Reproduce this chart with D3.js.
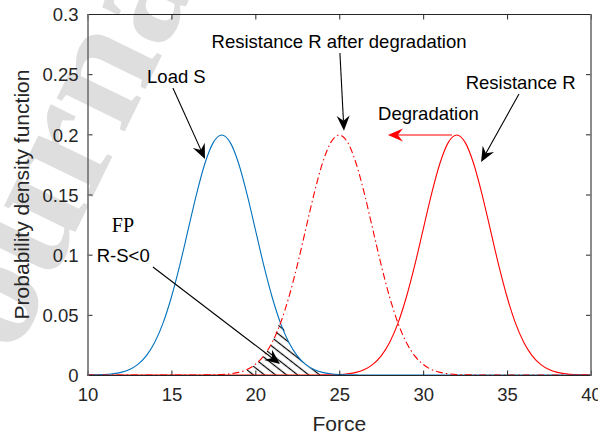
<!DOCTYPE html>
<html>
<head>
<meta charset="utf-8">
<script src="https://cdn.jsdelivr.net/npm/d3@7"></script>
<style>
  html, body { margin: 0; padding: 0; background: #fff; }
  svg { display: block; }
</style>
</head>
<body>
<svg id="chart" width="598" height="438"></svg>
<script>
// ---------- data ----------
const forceX = [10,10.5,11,11.5,12,12.5,13,13.5,14,14.5,15,15.5,16,16.5,17,17.5,18,18.5,19,19.5,20,20.5,21,21.5,22,22.5,23,23.5,24,24.5,25,25.5,26,26.5,27,27.5,28,28.5,29,29.5,30,30.5,31,31.5,32,32.5,33,33.5,34,34.5,35,35.5,36,36.5,37,37.5,38,38.5,39,39.5,40];

const loadS = [0.0001,0.0002,0.0004,0.0010,0.0022,0.0045,0.0088,0.0159,0.0270,0.0431,0.0648,0.0913,0.1210,0.1506,0.1760,0.1933,0.1995,0.1933,0.1760,0.1506,0.1210,0.0913,0.0648,0.0431,0.0270,0.0159,0.0088,0.0045,0.0022,0.0010,0.0004,0.0002,0.0001,0,0,0,0,0,0,0,0,0,0,0,0,0,0,0,0,0,0,0,0,0,0,0,0,0,0,0,0];

const resistDegraded = [0,0,0,0,0,0,0,0,0,0,0,0,0,0,0.0001,0.0002,0.0004,0.0010,0.0022,0.0045,0.0088,0.0159,0.0270,0.0431,0.0648,0.0913,0.1210,0.1506,0.1760,0.1933,0.1995,0.1933,0.1760,0.1506,0.1210,0.0913,0.0648,0.0431,0.0270,0.0159,0.0088,0.0045,0.0022,0.0010,0.0004,0.0002,0.0001,0,0,0,0,0,0,0,0,0,0,0,0,0,0];

const resistR = [0,0,0,0,0,0,0,0,0,0,0,0,0,0,0,0,0,0,0,0,0,0,0,0,0,0,0,0,0.0001,0.0002,0.0004,0.0010,0.0022,0.0045,0.0088,0.0159,0.0270,0.0431,0.0648,0.0913,0.1210,0.1506,0.1760,0.1933,0.1995,0.1933,0.1760,0.1506,0.1210,0.0913,0.0648,0.0431,0.0270,0.0159,0.0088,0.0045,0.0022,0.0010,0.0004,0.0002,0.0001];

const xTicks = [10,15,20,25,30,35,40];
const yTicks = [0,0.05,0.1,0.15,0.2,0.25,0.3];
const yTickLabels = ["0","0.05","0.1","0.15","0.2","0.25","0.3"];

// annotation texts and arrows in data units
const annoTexts = [
  {t:"Load S", x:13.55, y:0.2427},
  {t:"Resistance R after degradation", x:17.39, y:0.2717},
  {t:"Resistance R", x:32.53, y:0.2377},
  {t:"Degradation", x:27.31, y:0.2119},
  {t:"R-S<0", x:10.55, y:0.0939}
];
const annoArrows = [
  {x1:15.09, y1:0.2385, x2:17.00, y2:0.1795, c:"#000"},
  {x1:25.04, y1:0.2676, x2:25.28, y2:0.2030, c:"#000"},
  {x1:35.71, y1:0.2335, x2:33.45, y2:0.1770, c:"#000"},
  {x1:31.72, y1:0.1995, x2:27.90, y2:0.1995, c:"#ff0000"},
  {x1:13.90, y1:0.0898, x2:21.47, y2:0.0091, c:"#000"}
];

// ---------- layout ----------
const SANS = "'Liberation Sans', Arial, Helvetica, sans-serif";
const SERIF = "'Liberation Serif', 'Times New Roman', serif";
const svg = d3.select("#chart");
const L = 87.5, R = 591, T = 14, B = 375;
const x = d3.scaleLinear().domain([10,40]).range([L,R]);
const y = d3.scaleLinear().domain([0,0.3]).range([B,T]);
const axisCol = "#262626";

// watermark (light grey, behind everything)
svg.append("text")
  .attr("transform","translate(-22,432) rotate(-64)")
  .style("font-family",SERIF)
  .style("font-weight","bold")
  .style("font-size","165px")
  .attr("fill","#dedede")
  .text("Journal");

// ---------- hatch pattern ----------
const defs = svg.append("defs");
const pat = defs.append("pattern")
  .attr("id","hatch").attr("patternUnits","userSpaceOnUse")
  .attr("width",14).attr("height",6.8)
  .attr("patternTransform","rotate(38)");
pat.append("line").attr("x1",0).attr("y1",3.4).attr("x2",14).attr("y2",3.4)
  .attr("stroke","#000").attr("stroke-width",1.2);

const overlap = forceX.map((f,i)=>[f, Math.min(loadS[i], resistDegraded[i])]);
defs.append("clipPath").attr("id","ovClip")
  .append("path")
  .attr("d", d3.area().x(d=>x(d[0])).y0(y(0)).y1(d=>y(d[1])).curve(d3.curveMonotoneX)(overlap));

svg.append("rect")
  .attr("x", x(19.5)).attr("y", y(0.05)).attr("width", x(24)-x(19.5)).attr("height", y(0)-y(0.05))
  .attr("fill","url(#hatch)")
  .attr("clip-path","url(#ovClip)");

// ---------- curves ----------
const line = d3.line().x((d,i)=>x(forceX[i])).y(d=>y(d)).curve(d3.curveMonotoneX);

svg.append("path").attr("d", line(resistR))
  .attr("fill","none").attr("stroke","#ff0000").attr("stroke-width",1.1);
svg.append("path").attr("d", line(loadS))
  .attr("fill","none").attr("stroke","#0072bd").attr("stroke-width",1.1);
svg.append("path").attr("d", line(resistDegraded))
  .attr("fill","none").attr("stroke","#ff0000").attr("stroke-width",1.1)
  .attr("stroke-dasharray","7,3,1.5,3");

// ---------- axes (box with inward ticks) ----------
const gx = svg.append("g").attr("transform",`translate(0,${B+0.5})`)
  .call(d3.axisBottom(x).tickValues(xTicks).tickSize(-5).tickPadding(12).tickFormat(d3.format("d")));
const gxTop = svg.append("g").attr("transform",`translate(0,${T+0.5})`)
  .call(d3.axisTop(x).tickValues(xTicks).tickSize(-5).tickFormat(""));
const gy = svg.append("g").attr("transform",`translate(${L},0)`)
  .call(d3.axisLeft(y).tickValues(yTicks).tickSize(-5).tickPadding(9).tickFormat((d,i)=>yTickLabels[i]));
const gyR = svg.append("g").attr("transform",`translate(${R},0)`)
  .call(d3.axisRight(y).tickValues(yTicks).tickSize(-5).tickFormat(""));

[gx,gxTop,gy,gyR].forEach(g=>{
  g.select(".domain").remove();
  g.selectAll(".tick line").attr("stroke",axisCol);
  g.selectAll(".tick text").attr("fill",axisCol)
    .style("font-family",SANS).style("font-size","18.5px");
});
gy.selectAll(".tick text").attr("dy","0.36em");
gx.selectAll(".tick text").attr("dy","0.71em");

// box lines
svg.append("line").attr("x1",L).attr("x2",R).attr("y1",T+0.5).attr("y2",T+0.5).attr("stroke",axisCol);
svg.append("line").attr("x1",L).attr("x2",R).attr("y1",B+0.5).attr("y2",B+0.5).attr("stroke",axisCol);
svg.append("line").attr("x1",L+0.5).attr("x2",L+0.5).attr("y1",T).attr("y2",B+1).attr("stroke","#6e6e6e").attr("stroke-width",1.6);
svg.append("line").attr("x1",R).attr("x2",R).attr("y1",T).attr("y2",B+1).attr("stroke","#6e6e6e").attr("stroke-width",1.6);

// axis labels
svg.append("text").attr("x", x(25)).attr("y", 431).attr("text-anchor","middle")
  .style("font-family",SANS).style("font-size","21px").attr("fill",axisCol).text("Force");
svg.append("text").attr("transform",`translate(29,${(T+B)/2}) rotate(-90)`).attr("text-anchor","middle")
  .style("font-family",SANS).style("font-size","21px").attr("fill",axisCol).text("Probability density function");

// ---------- annotations ----------
annoTexts.forEach(a=>{
  svg.append("text").attr("x",x(a.x)).attr("y",y(a.y))
    .style("font-family",SANS).style("font-size","18.5px").attr("fill","#000").text(a.t);
});
svg.append("text").attr("x",x(11.45)).attr("y",y(0.1188))
  .style("font-family",SERIF).style("font-size","20px").attr("fill","#000").text("FP");

annoArrows.forEach(a=>{
  const X1=x(a.x1), Y1=y(a.y1), X2=x(a.x2), Y2=y(a.y2);
  const dx=X2-X1, dy=Y2-Y1, len=Math.hypot(dx,dy);
  const ux=dx/len, uy=dy/len, nx=-uy, ny=ux;
  const HL=15, HW=6.5, notch=5;
  const nX=X2-(HL-notch)*ux, nY=Y2-(HL-notch)*uy;
  svg.append("line").attr("x1",X1).attr("y1",Y1).attr("x2",nX).attr("y2",nY)
    .attr("stroke",a.c).attr("stroke-width",1.1);
  const pts=[[X2,Y2],[X2-HL*ux+HW*nx, Y2-HL*uy+HW*ny],[nX,nY],[X2-HL*ux-HW*nx, Y2-HL*uy-HW*ny]];
  svg.append("polygon").attr("points",pts.map(p=>p.join(",")).join(" ")).attr("fill",a.c);
});
</script>
</body>
</html>
